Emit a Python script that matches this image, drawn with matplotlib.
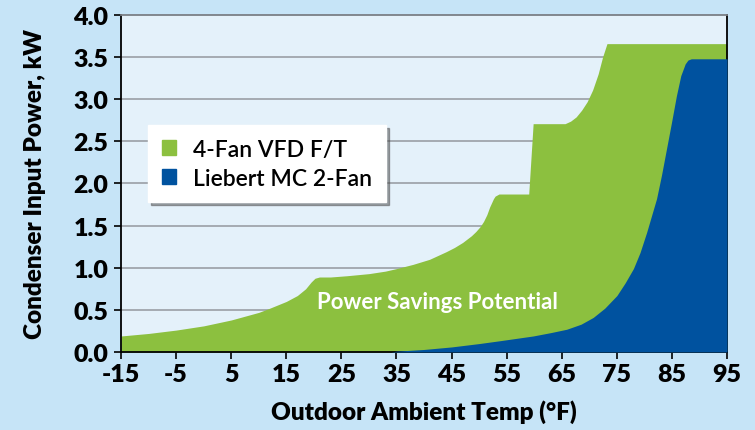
import matplotlib
matplotlib.use("Agg")
import matplotlib.pyplot as plt
from matplotlib.patches import Patch

# 4-Fan VFD F/T condenser power (kW) vs outdoor temp (F)
vfd_temp = [-15, -10, -5, 0, 5, 10, 12, 15, 17, 18.5, 19.5, 20.2, 21, 23, 26, 30, 33, 35, 38,
            41, 44, 45.5, 47, 48.6, 49.4, 50.2, 50.8, 51.4, 51.9, 52.6, 52.9, 53.6, 59.0, 59.8,
            65.6, 66.6, 67.6, 68.6, 69.6, 70.6, 71.6, 72.4, 73.2, 95]
vfd_kw = [0.19, 0.22, 0.26, 0.31, 0.38, 0.47, 0.52, 0.60, 0.67, 0.75, 0.83, 0.875, 0.89, 0.89,
          0.905, 0.93, 0.96, 0.99, 1.04, 1.10, 1.19, 1.24, 1.30, 1.38, 1.43, 1.49, 1.55, 1.63,
          1.72, 1.82, 1.85, 1.875, 1.875, 2.71, 2.71, 2.74, 2.79, 2.87, 2.97, 3.11, 3.30, 3.50,
          3.66, 3.66]

# Liebert MC 2-Fan
mc_temp = [-15, 34, 35, 40, 45, 50, 53.8, 59.8, 63, 65.9, 68.5, 70.7, 72.8, 75, 76.5, 78, 79.2,
           80.4, 81.3, 82.2, 83.1, 84, 84.9, 85.8, 86.6, 87.4, 87.9, 88.5, 95]
mc_kw = [0, 0, 0.01, 0.03, 0.06, 0.10, 0.134, 0.19, 0.23, 0.27, 0.33, 0.41, 0.52, 0.67, 0.82,
         0.99, 1.18, 1.42, 1.62, 1.82, 2.10, 2.41, 2.72, 3.04, 3.28, 3.42, 3.465, 3.48, 3.48]

x_ticks = [-15, -5, 5, 15, 25, 35, 45, 55, 65, 75, 85, 95]
y_ticks = [0.0, 0.5, 1.0, 1.5, 2.0, 2.5, 3.0, 3.5, 4.0]

green = "#8cc03f"
blue = "#00529f"

plt.rcParams['font.family'] = ['Lato', 'DejaVu Sans']
plt.rcParams['axes.unicode_minus'] = False

fig = plt.figure(figsize=(7.55, 4.31), dpi=100, facecolor="#c6e4f7")
ax = fig.add_axes([0.1603, 0.181, 0.8027, 0.7819])
ax.set_facecolor("#e4f1fa")

for y in y_ticks[1:-1]:
    ax.axhline(y, color="#9a9fa5", lw=1.2, zorder=1)

ax.fill_between(vfd_temp, 0, vfd_kw, color=green, lw=0, zorder=2)
ax.fill_between(mc_temp, 0, mc_kw, color=blue, lw=0, zorder=3)

ax.text(42.5, 0.6, "Power Savings Potential", color="white", fontsize=16,
        fontweight="bold", ha="center", va="center", zorder=4)

ax.set_xlim(-15, 95)
ax.set_ylim(0, 4.0)
ax.set_xticks(x_ticks)
ax.set_yticks(y_ticks)
ax.set_yticklabels(["%.1f" % v for v in y_ticks])
ax.tick_params(axis="both", labelsize=18, length=5, width=1.2, color="black")
ax.tick_params(axis="y", pad=4)
ax.tick_params(axis="x", pad=3)
for lab in ax.get_xticklabels() + ax.get_yticklabels():
    lab.set_fontweight("heavy")

for side in ["left", "bottom", "right"]:
    ax.spines[side].set_color("black")
    ax.spines[side].set_linewidth(1.3)
ax.spines["top"].set_color("#7a7f85")
ax.spines["top"].set_linewidth(1.3)

ax.set_xlabel("Outdoor Ambient Temp (°F)", fontsize=17.5, fontweight="heavy", labelpad=10)
ax.set_ylabel("Condenser Input Power, kW", fontsize=17.5, fontweight="heavy", labelpad=20)

handles = [Patch(color=green, label="4-Fan VFD F/T"),
           Patch(color=blue, label="Liebert MC 2-Fan")]
leg = ax.legend(handles=handles, loc="upper left", bbox_to_anchor=(0.045, 0.674),
                fontsize=16.5, frameon=True, fancybox=False, shadow=True, framealpha=1,
                handlelength=0.62, handleheight=0.62, handletextpad=0.75,
                borderpad=0.6, labelspacing=0.35, borderaxespad=0)
leg.get_frame().set_edgecolor("white")
leg.set_zorder(5)
for t in leg.get_texts():
    t.set_fontweight("semibold")

fig.savefig("out.png", dpi=100, facecolor=fig.get_facecolor())
